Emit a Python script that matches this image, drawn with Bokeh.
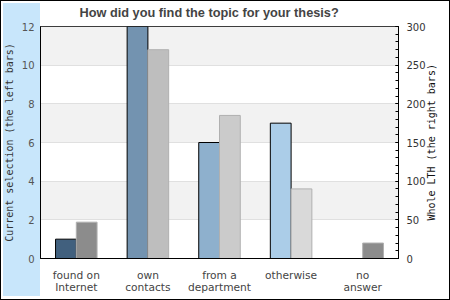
import math
from bokeh.plotting import figure
from bokeh.models import (ColumnDataSource, Range1d, LinearAxis, FixedTicker)
from bokeh.transform import dodge
from bokeh.embed import file_html
from bokeh.resources import INLINE

categories = ["found on Internet", "own contacts", "from a department", "otherwise", "no answer"]
label_line1 = ["found on", "own", "from a", "otherwise", "no"]
label_line2 = ["Internet", "contacts", "department", " ", "answer"]
current_selection = [1, 12, 6, 7, 0]
whole_lth = [47, 270, 185, 90, 20]
left_colors = ["#41607e", "#7393b0", "#8eb0cd", "#abcde8", "#abcde8"]
right_colors = ["#8c8c8c", "#bebebe", "#cbcbcb", "#d9d9d9", "#8c8c8c"]
left_ticks = [0, 2, 4, 6, 8, 10, 12]
right_ticks = [0, 50, 100, 150, 200, 250, 300]
title_text = "How did you find the topic for your thesis?"
left_label = "Current selection (the left bars)"
right_label = "Whole LTH (the right bars)"
right_label_at = 49  # where the upward-reading right label starts, on the right scale

# category centre positions on a numeric x scale (one unit per category)
cat_pos = [i + 0.5 for i in range(len(categories))]

src_left = ColumnDataSource(dict(x=cat_pos, cat=categories, val=current_selection, color=left_colors))
src_right = ColumnDataSource(dict(x=cat_pos, cat=categories, val=whole_lth, color=right_colors))

p = figure(width=450, height=300, x_range=Range1d(0, len(categories)),
           y_range=Range1d(0, 12), output_backend="svg", toolbar_location=None,
           min_border_left=40, min_border_right=52, min_border_top=25, min_border_bottom=42)
p.extra_y_ranges = {"right": Range1d(0, 300)}

p.border_fill_alpha = 0
p.background_fill_color = "white"
p.outline_line_color = "black"
p.outline_line_width = 1
p.styles = {
    "background-color": "white",
    "background-image": "linear-gradient(#c8e6fb, #c8e6fb)",
    "background-size": "37px 293px",
    "background-position": "3px 3px",
    "background-repeat": "no-repeat",
    "box-shadow": "inset 0 0 0 1px black",
}

# title
p.title.text = title_text
p.title.align = "left"
p.title.vertical_align = "top"
p.title.offset = 39
p.title.standoff = 9
p.title.text_font = "Liberation Sans"
p.title.text_font_style = "bold"
p.title.text_font_size = "12.75px"
p.title.text_color = "#444444"

# grid
p.xgrid.grid_line_color = None
p.ygrid.ticker = FixedTicker(ticks=left_ticks[1:])
p.ygrid.grid_line_color = "#e0e0e0"
p.ygrid.band_fill_color = "#f2f2f2"
p.ygrid.band_fill_alpha = 1

# bars
p.vbar(x=dodge("x", -0.145), top="val", width=0.29, source=src_left,
       fill_color="color", line_color="black", line_width=1)
p.vbar(x=dodge("x", 0.145), top="val", width=0.29, source=src_right,
       fill_color="color", line_color="#b0b0b0", line_width=1, y_range_name="right")

# left axis
ya = p.yaxis[0]
ya.ticker = FixedTicker(ticks=left_ticks)
ya.major_tick_out = 0
ya.major_tick_in = 0
ya.minor_tick_out = 0
ya.minor_tick_in = 0
ya.axis_line_color = "black"
ya.major_label_standoff = 6
ya.major_label_text_font = "DejaVu Sans"
ya.major_label_text_font_size = "10px"
ya.major_label_text_color = "#555555"
ya.axis_label = left_label
ya.axis_label_text_font = "DejaVu Sans Mono"
ya.axis_label_text_font_style = "normal"
ya.axis_label_text_font_size = "10px"
ya.axis_label_text_color = "#333333"
ya.axis_label_standoff = 4

# right axis (ticks and numbers)
ra = LinearAxis(y_range_name="right",
                ticker=FixedTicker(ticks=right_ticks, minor_ticks=list(range(0, 301, 10))))
ra.major_tick_in = 3
ra.major_tick_out = 0
ra.minor_tick_in = 3
ra.minor_tick_out = 0
ra.major_tick_line_color = "black"
ra.minor_tick_line_color = "black"
ra.axis_line_color = "black"
ra.major_label_standoff = 8
ra.major_label_text_font = "DejaVu Sans"
ra.major_label_text_font_size = "10px"
ra.major_label_text_color = "#333333"
p.add_layout(ra, "right")

# right axis title, reading upwards like the left one
rl = LinearAxis(y_range_name="right", ticker=FixedTicker(ticks=[right_label_at]),
                major_label_overrides={right_label_at: right_label})
rl.major_tick_in = 0
rl.major_tick_out = 0
rl.minor_tick_in = 0
rl.minor_tick_out = 0
rl.axis_line_color = None
rl.major_label_orientation = math.pi / 2
rl.major_label_standoff = 3
rl.major_label_text_font = "DejaVu Sans Mono"
rl.major_label_text_font_size = "10px"
rl.major_label_text_color = "#111111"
p.add_layout(rl, "right")

# x axes (two stacked axes for the two label lines)
xa = p.xaxis[0]
xa.ticker = FixedTicker(ticks=cat_pos)
xa.major_label_overrides = dict(zip(cat_pos, label_line1))
xa.major_tick_out = 0
xa.major_tick_in = 0
xa.minor_tick_out = 0
xa.minor_tick_in = 0
xa.axis_line_color = "black"
xa.major_label_standoff = 10
xa.major_label_text_font = "DejaVu Sans"
xa.major_label_text_font_size = "8pt"
xa.major_label_text_color = "#444444"

xb = LinearAxis(ticker=FixedTicker(ticks=cat_pos),
                major_label_overrides=dict(zip(cat_pos, label_line2)))
xb.major_tick_out = 0
xb.major_tick_in = 0
xb.minor_tick_out = 0
xb.minor_tick_in = 0
xb.axis_line_color = None
xb.major_label_standoff = -4
xb.major_label_text_font = "DejaVu Sans"
xb.major_label_text_font_size = "8pt"
xb.major_label_text_color = "#444444"
p.add_layout(xb, "below")

open("out.html", "w").write(file_html(p, INLINE))
